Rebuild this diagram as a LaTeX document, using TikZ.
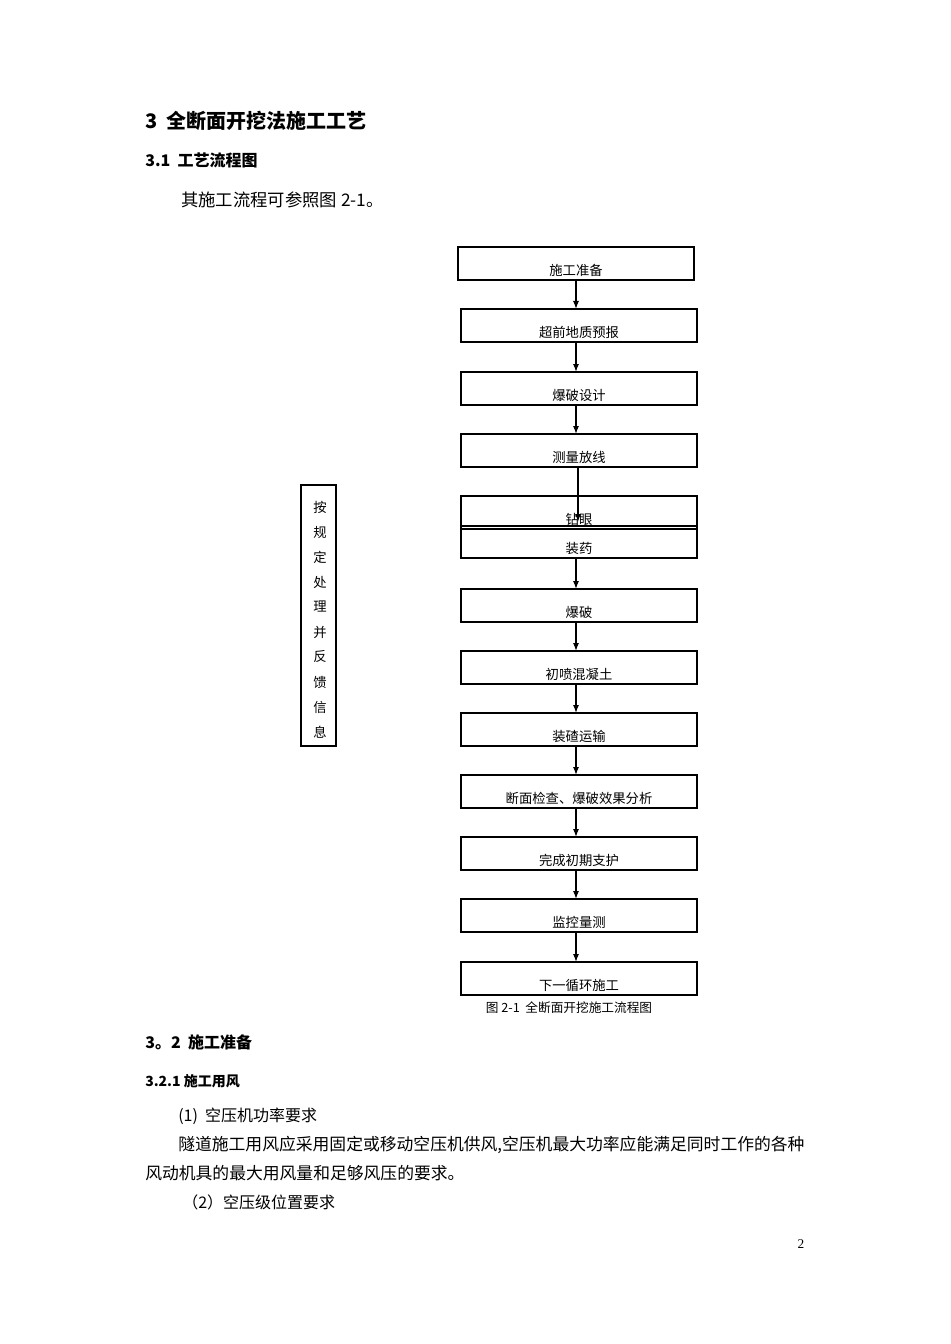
\documentclass[tikz,border=0pt]{standalone}
\usepackage{fontspec}
\setmainfont{Liberation Serif}
\newfontfamily\cjk{Noto Sans CJK SC}
\usetikzlibrary{arrows.meta}
\begin{document}
\begin{tikzpicture}[x=0.75pt,y=-0.75pt,
  fbox/.style={draw,line width=0.9pt},
  lab/.style={font=\cjk\fontsize{10}{12}\selectfont,inner sep=0pt},
  arr/.style={-{Latex[length=6pt,width=4.5pt]},line width=0.9pt},
  txt/.style={anchor=west,inner sep=0pt,font=\cjk\fontsize{12}{14}\selectfont}]
\useasboundingbox[fill=white] (0,0) rectangle (950,1344);
\node[txt,font=\cjk\bfseries\fontsize{15}{18}\selectfont] (h1) at (145,121) {3\ \ 全断面开挖法施工工艺};
\node[txt,font=\cjk\bfseries\fontsize{12}{14}\selectfont] (h2) at (145,160) {3.1\ \ 工艺流程图};
\node[txt,font=\cjk\fontsize{13}{15}\selectfont] (p0) at (181,200) {其施工流程可参照图 2-1。};
% flow boxes
\draw[fbox] (458,247) rectangle (694,280); \node[lab] (t1) at (576,270) {施工准备};
\foreach \i/\y/\t in {2/309/超前地质预报,3/372/爆破设计,4/434/测量放线,7/589/爆破,8/651/初喷混凝土,9/713/装碴运输,10/775/断面检查、爆破效果分析,11/837/完成初期支护,12/899/监控量测,13/962/下一循环施工}{
  \draw[fbox] (461,\y) rectangle (697,\y+33);
  \node[lab] (t\i) at (579,\y+23) {\t};
}
\draw[fbox] (461,496) rectangle (697,529); \node[lab] (t5) at (579,519) {钻眼};
\draw[fbox] (461,526) rectangle (697,558); \node[lab] (t6) at (579,548) {装药};
\foreach \a/\b in {280/309,342/372,405/434,558/589,622/651,684/713,746/775,808/837,870/899,932/962}
  \draw[arr] (576,\a) -- (576,\b);
\draw[arr] (578,467) -- (578,522);
% left box
\draw[fbox] (301,485) rectangle (336,746);
\foreach \c [count=\k from 0] in {按,规,定,处,理,并,反,馈,信,息}
  \node[lab] (l\k) at (320,507+25*\k) {\c};
\node[lab,font=\cjk\fontsize{9.5}{11}\selectfont] (cap) at (569,1008) {图 2-1\ \ 全断面开挖施工流程图};
\node[txt,font=\cjk\bfseries\fontsize{12}{14}\selectfont] (h3) at (145,1042) {3。2\ \ 施工准备};
\node[txt,font=\cjk\bfseries\fontsize{10.5}{13}\selectfont] (h4) at (145,1081) {3.2.1\ 施工用风};
\node[txt] (p1) at (178,1116) {(1)\ \ 空压机功率要求};
\node[txt,font=\cjk\fontsize{12.6}{14}\selectfont] (p2) at (178,1145) {隧道施工用风应采用固定或移动空压机供风,空压机最大功率应能满足同时工作的各种};
\node[txt,font=\cjk\fontsize{12.6}{14}\selectfont] (p3) at (145,1173) {风动机具的最大用风量和足够风压的要求。};
\node[txt] (p4) at (182,1202) {（2）空压级位置要求};
\node[lab,font=\fontsize{10}{12}\selectfont] (pn) at (801,1244) {2};
\end{tikzpicture}
\end{document}
